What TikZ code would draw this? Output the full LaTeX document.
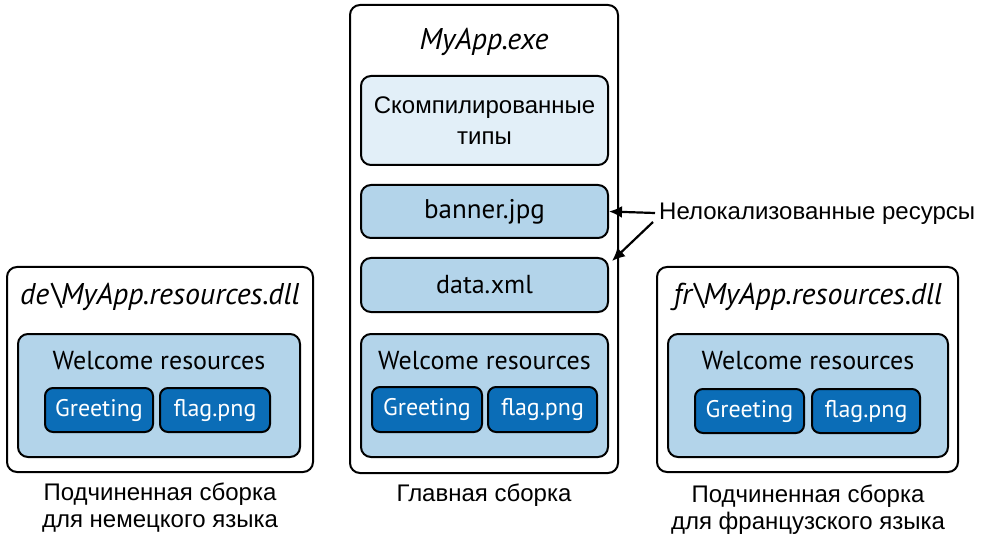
\documentclass[tikz,border=0pt]{standalone}
\usepackage{fontspec}
\setmainfont{PT Sans}
\newfontfamily\rufont{Liberation Sans}
\usetikzlibrary{arrows.meta}
\definecolor{lightblue}{HTML}{B3D4EA}
\definecolor{paleblue}{HTML}{E2EFF8}
\definecolor{darkblue}{HTML}{0B6DB7}
\tikzset{
  outerbox/.style={draw=black, line width=2pt, rounded corners=10pt, fill=white},
  resbox/.style={draw=black, line width=2pt, rounded corners=10pt, fill=lightblue},
  palebox/.style={draw=black, line width=2pt, rounded corners=10pt, fill=paleblue},
  itembox/.style={draw=black, line width=2pt, rounded corners=8pt, fill=darkblue, text=white, font=\fontsize{24}{27}\selectfont},
  boxtext/.style={font=\fontsize{26}{29}\selectfont},
  titletext/.style={font=\fontsize{30}{34}\selectfont\itshape},
  rutext/.style={font=\rufont\fontsize{24}{27}\selectfont, align=center},
  arr/.style={-{Latex[length=13pt,width=12pt]}, line width=2.2pt}
}
\begin{document}
\begin{tikzpicture}[x=1pt,y=-1pt]
\useasboundingbox (0,0) rectangle (982,537);

% left assembly
\node[outerbox, minimum width=306pt, minimum height=205pt] (deouter) at (160,369.5) {};
\node[titletext] (detitle) at (160,297) {de\textbackslash MyApp.resources.dll};
\node[resbox, minimum width=282pt, minimum height=123pt] (dewelcome) at (159,395.5) {};
\node[boxtext] (dewelcometext) at (159,361) {Welcome resources};
\node[itembox, minimum width=108pt, minimum height=44pt] (degreet) at (99,410) {Greeting};
\node[itembox, minimum width=110pt, minimum height=44pt] (deflag) at (215,410) {flag.png};
\node[rutext] (decap) at (160,508) {Подчиненная сборка\\для немецкого языка};

% main assembly
\node[outerbox, minimum width=268pt, minimum height=468pt] (mainouter) at (484,239) {};
\node[titletext] (maintitle) at (484,42) {MyApp.exe};
\node[palebox, minimum width=247pt, minimum height=89pt, rutext, font=\rufont\fontsize{24}{31}\selectfont] (compiled) at (484.5,120.5) {Скомпилированные\\типы};
\node[resbox, font=\fontsize{27}{30}\selectfont, minimum width=247pt, minimum height=53pt] (banner) at (484.5,211.5) {banner.jpg};
\node[resbox, boxtext, minimum width=247pt, minimum height=54pt] (data) at (484.5,285) {data.xml};
\node[resbox, minimum width=247pt, minimum height=123pt] (mainwelcome) at (484.5,395.5) {};
\node[boxtext] (mainwelcometext) at (484.5,361) {Welcome resources};
\node[itembox, minimum width=110pt, minimum height=45pt] (maingreet) at (427,409.5) {Greeting};
\node[itembox, minimum width=109pt, minimum height=45pt] (mainflag) at (542.5,409.5) {flag.png};
\node[rutext] (maincap) at (484,495) {Главная сборка};

% right assembly
\node[outerbox, minimum width=301pt, minimum height=205pt] (frouter) at (807.5,369.5) {};
\node[titletext] (frtitle) at (808,297) {fr\textbackslash MyApp.resources.dll};
\node[resbox, minimum width=280pt, minimum height=123pt] (frwelcome) at (808,395.5) {};
\node[boxtext] (frwelcometext) at (808,361) {Welcome resources};
\node[itembox, minimum width=109pt, minimum height=44pt] (frgreet) at (749.5,411) {Greeting};
\node[itembox, minimum width=108pt, minimum height=44pt] (frflag) at (866,411) {flag.png};
\node[rutext] (frcap) at (808,510) {Подчиненная сборка\\для французского языка};

% annotation
\node[rutext, anchor=west, inner sep=0pt] (annot) at (659,214) {Нелокализованные ресурсы};
\coordinate (a1start) at (655,213);
\coordinate (a2start) at (653,222);
\coordinate (dataend) at ([xshift=3pt,yshift=-4pt]data.north east);
\draw[arr] (a1start) -- (banner.east);
\draw[arr] (a2start) -- (dataend);
\end{tikzpicture}
\end{document}
